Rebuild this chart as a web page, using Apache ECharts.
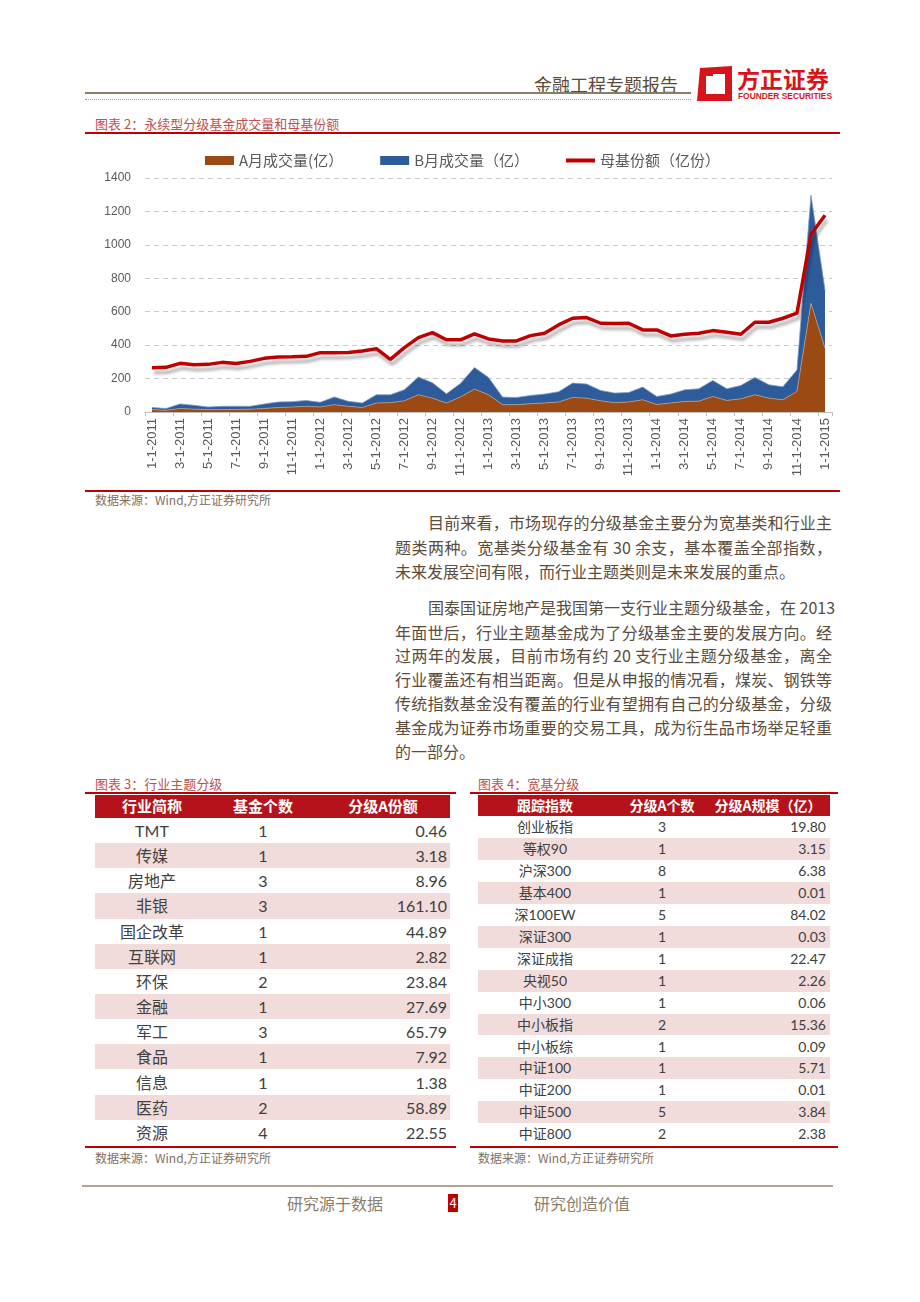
<!DOCTYPE html>
<html>
<head>
<meta charset="utf-8">
<script src="https://cdn.jsdelivr.net/npm/echarts@6/dist/echarts.min.js"></script>
<style>
  body { margin: 0; background: #fff; }
  #page { position: relative; width: 920px; height: 1302px; overflow: hidden; background: #fff;
          font-family: 'Noto Sans CJK SC', sans-serif; }
  .t { position: absolute; white-space: nowrap; line-height: 1; }
  .hl { position: absolute; }
  .para { position: absolute; font-size: 16px; color: #5b4c3c; line-height: 1; white-space: nowrap;
          text-align: justify; text-align-last: justify; }
  .tbl { position: absolute; }
  .row { position: absolute; left: 0; }
  .cell { position: absolute; top: 0; white-space: nowrap; }
</style>
</head>
<body>
<div id="page">
  <!-- 页眉 -->
  <div class="t" style="left:534px;top:75px;font-size:18px;color:#5a4a3a;">金融工程专题报告</div>
  <div class="hl" style="left:85px;top:92px;width:606px;height:2px;background:#8c7b65;"></div>
  <div class="hl" style="left:85px;top:99px;width:606px;height:0;border-top:1px dotted #a89a88;"></div>
  <svg class="hl" style="left:696px;top:65px;" width="38" height="37" viewBox="0 0 38 37">
    <path d="M4 3 L36 1 L36 36 L1 36 Z M10 11 L10 29 L29 29 L29 9 L17 9 L17 11 Z" fill="#d7141a" fill-rule="evenodd"/>
  </svg>
  <div class="t" style="left:737px;top:67px;font-size:23px;font-weight:bold;color:#d7141a;">方正证券</div>
  <div class="t" style="left:738px;top:92px;font-size:8.4px;font-weight:bold;color:#d7141a;font-family:'Liberation Sans',sans-serif;">FOUNDER SECURITIES</div>

  <!-- 图表2 -->
  <div class="t" style="left:95px;top:117px;font-size:13px;color:#c0504d;">图表 2：永续型分级基金成交量和母基份额</div>
  <div class="hl" style="left:85px;top:132px;width:755px;height:2px;background:#c00000;"></div>
  <div id="chart" style="position:absolute;left:85px;top:140px;width:755px;height:350px;"></div>
  <div class="hl" style="left:85px;top:490px;width:755px;height:2px;background:#c00000;"></div>
  <div class="t" style="left:95px;top:494px;font-size:12px;color:#7f6f5f;">数据来源：Wind,方正证券研究所</div>

  <!-- 正文 -->
  <div class="para" style="left:428px;top:514px;width:404px;">目前来看，市场现存的分级基金主要分为宽基类和行业主</div>
  <div class="para" style="left:395px;top:539px;width:437px;">题类两种。宽基类分级基金有 30 余支，基本覆盖全部指数，</div>
  <div class="para" style="left:395px;top:563px;text-align-last:left;">未来发展空间有限，而行业主题类则是未来发展的重点。</div>
  <div class="para" style="left:428px;top:599px;width:404px;">国泰国证房地产是我国第一支行业主题分级基金，在 2013</div>
  <div class="para" style="left:395px;top:624px;width:437px;">年面世后，行业主题基金成为了分级基金主要的发展方向。经</div>
  <div class="para" style="left:395px;top:647px;width:437px;">过两年的发展，目前市场有约 20 支行业主题分级基金，离全</div>
  <div class="para" style="left:395px;top:671px;width:437px;">行业覆盖还有相当距离。但是从申报的情况看，煤炭、钢铁等</div>
  <div class="para" style="left:395px;top:695px;width:437px;">传统指数基金没有覆盖的行业有望拥有自己的分级基金，分级</div>
  <div class="para" style="left:395px;top:719px;width:437px;">基金成为证券市场重要的交易工具，成为衍生品市场举足轻重</div>
  <div class="para" style="left:395px;top:743px;text-align-last:left;">的一部分。</div>

  <!-- 图表3 / 图表4 -->
  <div class="t" style="left:95px;top:777px;font-size:13px;color:#c0504d;">图表 3：行业主题分级</div>
  <div class="hl" style="left:85px;top:792px;width:371px;height:2px;background:#c00000;"></div>
  <div id="tbl3" class="tbl" style="left:95px;top:795px;width:355px;height:350px;"></div>
  <div class="hl" style="left:85px;top:1146px;width:371px;height:2px;background:#c00000;"></div>
  <div class="t" style="left:95px;top:1152px;font-size:12px;color:#7f6f5f;">数据来源：Wind,方正证券研究所</div>

  <div class="t" style="left:478px;top:777px;font-size:13px;color:#c0504d;">图表 4：宽基分级</div>
  <div class="hl" style="left:470px;top:792px;width:368px;height:2px;background:#c00000;"></div>
  <div id="tbl4" class="tbl" style="left:478px;top:795px;width:352px;height:350px;"></div>
  <div class="hl" style="left:470px;top:1146px;width:368px;height:2px;background:#c00000;"></div>
  <div class="t" style="left:478px;top:1152px;font-size:12px;color:#7f6f5f;">数据来源：Wind,方正证券研究所</div>

  <!-- 页脚 -->
  <div class="hl" style="left:82px;top:1185px;width:751px;height:2px;background:#b3a594;"></div>
  <div class="t" style="left:287px;top:1195px;font-size:16px;color:#8c7c6a;">研究源于数据</div>
  <div class="t" style="left:448px;top:1194px;width:10px;height:18px;background:#c00000;color:#fff;font-size:13px;text-align:center;line-height:18px;">4</div>
  <div class="t" style="left:534px;top:1195px;font-size:16px;color:#8c7c6a;">研究创造价值</div>
</div>

<script>
// 横轴：月份
const months = [
  '1-1-2011','2-1-2011','3-1-2011','4-1-2011','5-1-2011','6-1-2011','7-1-2011','8-1-2011','9-1-2011','10-1-2011','11-1-2011','12-1-2011',
  '1-1-2012','2-1-2012','3-1-2012','4-1-2012','5-1-2012','6-1-2012','7-1-2012','8-1-2012','9-1-2012','10-1-2012','11-1-2012','12-1-2012',
  '1-1-2013','2-1-2013','3-1-2013','4-1-2013','5-1-2013','6-1-2013','7-1-2013','8-1-2013','9-1-2013','10-1-2013','11-1-2013','12-1-2013',
  '1-1-2014','2-1-2014','3-1-2014','4-1-2014','5-1-2014','6-1-2014','7-1-2014','8-1-2014','9-1-2014','10-1-2014','11-1-2014','12-1-2014',
  '1-1-2015'
];
// A月成交量（亿）
const volA = [14,10,21,17,15,15,15,17,21,27,30,34,
              30,44,34,27,54,56,67,103,83,54,90,137,
              103,44,44,50,54,60,87,83,67,56,60,73,
              45,54,63,65,93,69,79,103,83,73,123,650,
              382];
// B月成交量（亿）
const volB = [13,11,27,23,15,19,19,17,27,33,32,35,
              28,46,30,27,49,47,66,106,92,55,81,129,
              104,45,43,49,53,61,86,84,62,57,57,76,
              48,53,70,74,96,70,80,104,80,78,129,648,
              348];
// 母基份额（亿份）
const parentShares = [265,267,291,283,285,297,290,303,321,329,330,333,
                      355,355,356,365,379,315,385,445,475,432,432,468,
                      437,425,425,457,471,521,561,565,531,529,531,491,
                      491,455,465,471,487,477,465,537,537,561,591,1062,
                      1177];
const legendNames = ['A月成交量(亿）', 'B月成交量（亿）', '母基份额（亿份）'];

// 图表3：行业主题分级
const themeHead = ['行业简称', '基金个数', '分级A份额'];
const themeNames = ['TMT','传媒','房地产','非银','国企改革','互联网','环保','金融','军工','食品','信息','医药','资源'];
const themeCounts = [1,1,3,3,1,1,2,1,3,1,1,2,4];
const themeShares = ['0.46','3.18','8.96','161.10','44.89','2.82','23.84','27.69','65.79','7.92','1.38','58.89','22.55'];

// 图表4：宽基分级
const broadHead = ['跟踪指数', '分级A个数', '分级A规模（亿）'];
const broadNames = ['创业板指','等权90','沪深300','基本400','深100EW','深证300','深证成指','央视50','中小300','中小板指','中小板综','中证100','中证200','中证500','中证800'];
const broadCounts = [3,1,8,1,5,1,1,1,1,2,1,1,1,5,2];
const broadScales = ['19.80','3.15','6.38','0.01','84.02','0.03','22.47','2.26','0.06','15.36','0.09','5.71','0.01','3.84','2.38'];

function buildTable(id, head, names, counts, vals, cfg) {
  const box = document.getElementById(id);
  const W = box.offsetWidth;
  let html = '<div class="row" style="top:0;width:' + W + 'px;height:' + cfg.headH + 'px;background:#b5121b;"></div>';
  const headTop = (cfg.headH - cfg.headFont) / 2 - 1;
  const hs = 'top:' + headTop + 'px;color:#fff;font-weight:bold;font-size:' + cfg.headFont + 'px;line-height:1;';
  html += '<div class="cell" style="left:' + (cfg.c1 - 60) + 'px;width:120px;text-align:center;' + hs + '">' + head[0] + '</div>';
  html += '<div class="cell" style="left:' + (cfg.c2 - 60) + 'px;width:120px;text-align:center;' + hs + '">' + head[1] + '</div>';
  html += '<div class="cell" style="left:' + (cfg.c3 - 75) + 'px;width:150px;text-align:center;' + hs + '">' + head[2] + '</div>';
  names.forEach(function (n, i) {
    const top = cfg.headH + i * cfg.rowH;
    const bg = (i % 2 === 1) ? '#f2dcdb' : 'transparent';
    const st = 'font-size:' + cfg.font + 'px;color:#404040;line-height:' + cfg.rowH + 'px;font-family:Lato,\'Noto Sans CJK SC\',sans-serif;';
    html += '<div class="row" style="top:' + top + 'px;width:' + W + 'px;height:' + cfg.rowH + 'px;background:' + bg + ';">' +
      '<div class="cell" style="left:' + (cfg.c1 - 60) + 'px;width:120px;text-align:center;' + st + '">' + n + '</div>' +
      '<div class="cell" style="left:' + (cfg.c2 - 60) + 'px;width:120px;text-align:center;' + st + '">' + counts[i] + '</div>' +
      '<div class="cell" style="right:' + (W - cfg.vr) + 'px;text-align:right;' + st + '">' + vals[i] + '</div>' +
      '</div>';
  });
  box.innerHTML = html;
}

buildTable('tbl3', themeHead, themeNames, themeCounts, themeShares,
  { headH: 23, headFont: 15, rowH: 25.15, font: 16, c1: 57, c2: 168, c3: 288, vr: 352 });
buildTable('tbl4', broadHead, broadNames, broadCounts, broadScales,
  { headH: 21, headFont: 14, rowH: 21.95, font: 14, c1: 67, c2: 184, c3: 290, vr: 348 });

const chart = echarts.init(document.getElementById('chart'));
const option = {
  animation: false,
  textStyle: { fontFamily: "'Noto Sans CJK SC', sans-serif" },
  legend: {
    top: 8,
    left: 'center',
    itemWidth: 29,
    itemHeight: 9,
    itemGap: 37,
    textStyle: { fontSize: 15, color: '#595959' },
    data: [
      { name: legendNames[0], icon: 'rect' },
      { name: legendNames[1], icon: 'rect' },
      { name: legendNames[2], icon: 'path://M0,0 L29,0 L29,4 L0,4 Z' }
    ]
  },
  grid: { left: 60, right: 8, top: 38, bottom: 78, containLabel: false, outerBoundsMode: 'none' },
  xAxis: {
    type: 'category',
    data: months,
    boundaryGap: true,
    axisLine: { lineStyle: { color: '#bfbfbf' } },
    axisTick: { show: true, interval: 1, length: 4, lineStyle: { color: '#bfbfbf' } },
    axisLabel: { interval: 1, rotate: 90, fontSize: 13, color: '#595959', margin: 6,
                 fontFamily: "'Liberation Sans', Arial, sans-serif" },
    splitLine: { show: false }
  },
  yAxis: {
    type: 'value',
    min: 0,
    max: 1400,
    interval: 200,
    axisLine: { show: false },
    axisTick: { show: false },
    axisLabel: { fontSize: 12, color: '#595959', margin: 14,
                 formatter: function (v) { return String(v); },
                 fontFamily: "'Liberation Sans', Arial, sans-serif" },
    splitLine: { lineStyle: { type: [5, 4], color: '#c9c9c9', width: 1 } }
  },
  series: [
    {
      name: legendNames[0],
      type: 'line',
      stack: 'vol',
      data: volA,
      symbol: 'none',
      color: '#9c4a14',
      lineStyle: { width: 0.8, color: '#b89c86' },
      areaStyle: { color: '#9c4a14', opacity: 1 },
      z: 2
    },
    {
      name: legendNames[1],
      type: 'line',
      stack: 'vol',
      data: volB,
      symbol: 'none',
      color: '#2e5c9b',
      lineStyle: { width: 0.8, color: '#7f9cc4' },
      areaStyle: { color: '#2e5c9b', opacity: 1 },
      z: 2
    },
    {
      name: legendNames[2],
      type: 'line',
      data: parentShares,
      symbol: 'none',
      color: '#c00000',
      lineStyle: { width: 3.5, color: '#c00000',
                   shadowColor: 'rgba(0,0,0,0.28)', shadowBlur: 3, shadowOffsetX: 2, shadowOffsetY: 5 },
      z: 5
    }
  ]
};
chart.setOption(option);
</script>
</body>
</html>
